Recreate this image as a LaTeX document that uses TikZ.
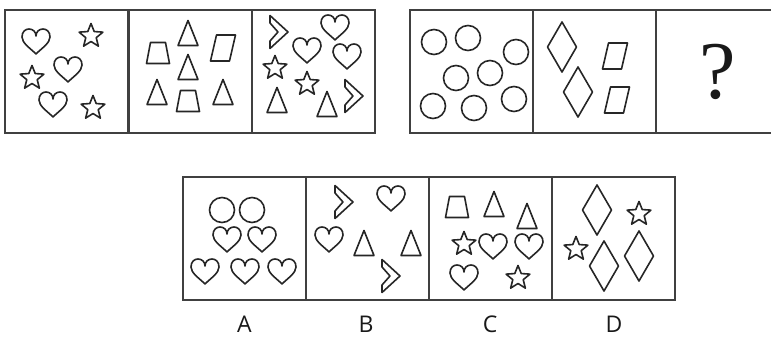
\documentclass[tikz,border=0pt]{standalone}
\usepackage{fontspec}
\newfontfamily\labelfont{Open Sans}
\newfontfamily\markfont{Liberation Serif}
\usepackage{tikz}
\usetikzlibrary{positioning}

\tikzset{
	shp/.style={line width=1.6pt, draw=black!85, line join=round},
	panel/.style={draw=black!75, line width=2pt, minimum width=123pt, minimum height=123pt, inner sep=0pt},
	optlabel/.style={font=\labelfont\fontsize{23}{25}\selectfont, text=black!90},
	heart/.pic={\draw[shp] (0,12) .. controls (-6,6) and (-14,1) .. (-14,-5) .. controls (-14,-10) and (-11,-13) .. (-7,-13) .. controls (-3,-13) and (0,-10) .. (0,-6) .. controls (0,-10) and (3,-13) .. (7,-13) .. controls (11,-13) and (14,-10) .. (14,-5) .. controls (14,1) and (6,6) .. (0,12) -- cycle;},
	fivestar/.pic={\draw[shp] (0,-12.5) \foreach \k in {1,...,9}{ -- ({-90+36*\k}:{mod(\k,2)==1 ? 5.5 : 12.5}) } -- cycle;},
	tri/.pic={\draw[shp] (0,-12.5) -- (10,12.5) -- (-10,12.5) -- cycle;},
	trap/.pic={\draw[shp] (-7.5,-10.5) -- (7.5,-10.5) -- (11.5,10.5) -- (-11.5,10.5) -- cycle;},
	para/.pic={\draw[shp] (-6.5,-13) -- (12.5,-13) -- (6.5,13) -- (-12.5,13) -- cycle;},
	rhomb/.pic={\draw[shp] (0,-25) -- (14.5,0) -- (0,25) -- (-14.5,0) -- cycle;},
	chev/.pic={\draw[shp] (-9,-16.5) -- (9,0) -- (-9,16.5) -- (-9,9) -- (-1,0) -- (-9,-9) -- cycle;},
	ring/.pic={\draw[shp] (0,0) circle (12.5);}
}

\begin{document}
\begin{tikzpicture}[x=1pt,y=-1pt]
	
	\useasboundingbox (0,0) rectangle (771,338);
	
	% question row
	\node[panel] (q1) at (66.5,71.5) {};
	\node[panel] (q2) at (190,71.5) {};
	\node[panel] (q3) at (313.5,71.5) {};
	\node[panel] (q4) at (471.5,71.5) {};
	\node[panel] (q5) at (594.5,71.5) {};
	\node[panel] (q6) at (717.5,71.5) {};
	
	% answer row
	\node[panel] (pA) at (244.5,238.5) {};
	\node[panel] (pB) at (367.5,238.5) {};
	\node[panel] (pC) at (490.5,238.5) {};
	\node[panel] (pD) at (613.5,238.5) {};
	
	\node[optlabel] (lA) at (244.5,324) {A};
	\node[optlabel] (lB) at (366,324) {B};
	\node[optlabel] (lC) at (490,324) {C};
	\node[optlabel] (lD) at (614,324) {D};
	
	% panel 1
	\pic at (36,42) {heart};
	\pic at (91,36) {fivestar};
	\pic at (68,70) {heart};
	\pic at (32,78) {fivestar};
	\pic at (53,105) {heart};
	\pic at (93,108) {fivestar};
	
	% panel 2
	\pic at (188,33) {tri};
	\pic at (158,53) {trap};
	\pic at (223,48) {para};
	\pic at (188,67) {tri};
	\pic at (157,92) {tri};
	\pic at (188,101) {trap};
	\pic at (223,92) {tri};
	
	% panel 3
	\pic at (279,32) {chev};
	\pic at (335,28) {heart};
	\pic at (307,51) {heart};
	\pic at (347,57) {heart};
	\pic at (275,68) {fivestar};
	\pic at (307,84) {fivestar};
	\pic at (277,100) {tri};
	\pic at (327,104) {tri};
	\pic at (354,96) {chev};
	
	% panel 4
	\pic at (434,42) {ring};
	\pic at (468,38) {ring};
	\pic at (516,52) {ring};
	\pic at (456,78) {ring};
	\pic at (490,73) {ring};
	\pic at (433,106) {ring};
	\pic at (474,108) {ring};
	\pic at (514,99) {ring};
	
	% panel 5
	\pic at (562,47) {rhomb};
	\pic at (578,92) {rhomb};
	\pic at (615,56) {para};
	\pic at (617,100) {para};
	
	% panel 6
	\node[font=\markfont\fontsize{82}{84}\selectfont, text=black!90] (qm) at (718,72) {?};
	
	% option A
	\pic at (222,210) {ring};
	\pic at (252,210) {ring};
	\pic at (227,240) {heart};
	\pic at (262,240) {heart};
	\pic at (205,272) {heart};
	\pic at (245,272) {heart};
	\pic at (282,272) {heart};
	
	% option B
	\pic at (344,202) {chev};
	\pic at (391,199) {heart};
	\pic at (329,240) {heart};
	\pic at (364,243) {tri};
	\pic at (411,243) {tri};
	\pic at (391,276) {chev};
	
	% option C
	\pic at (457,207) {trap};
	\pic at (494,204) {tri};
	\pic at (527,216) {tri};
	\pic at (464,244) {fivestar};
	\pic at (493,247) {heart};
	\pic at (529,247) {heart};
	\pic at (464,278) {heart};
	\pic at (518,278) {fivestar};
	
	% option D
	\pic at (597,210) {rhomb};
	\pic at (639,214) {fivestar};
	\pic at (576,249) {fivestar};
	\pic at (604,266) {rhomb};
	\pic at (639,256) {rhomb};
	
\end{tikzpicture}
\end{document}
